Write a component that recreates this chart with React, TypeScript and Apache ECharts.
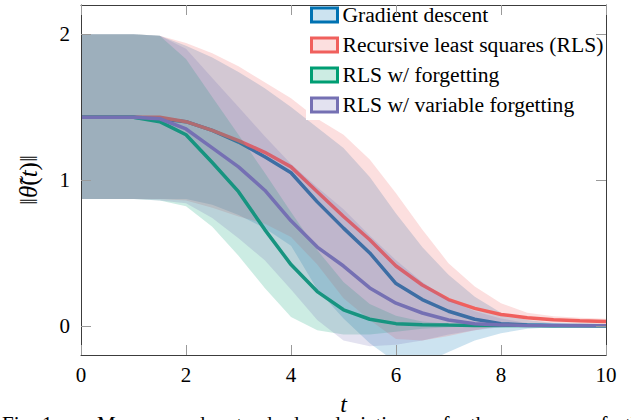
import React, { useEffect, useRef } from "react";
import * as echarts from "echarts";

// time grid
const tValues = [0, 0.5, 1, 1.5, 2, 2.5, 3, 3.5, 4, 4.5, 5, 5.5, 6, 6.5, 7, 7.5, 8, 8.5, 9, 9.5, 10];

// Gradient descent
const gdMean = [1.43, 1.43, 1.43, 1.42, 1.40, 1.34, 1.26, 1.16, 1.05, 0.85, 0.67, 0.50, 0.29, 0.18, 0.10, 0.045, 0.015, 0.006, 0.003, 0.002, 0.001];
const gdUpper = [2.0, 2.0, 2.0, 1.99, 1.92, 1.84, 1.74, 1.63, 1.50, 1.36, 1.22, 1.02, 0.77, 0.54, 0.35, 0.20, 0.09, 0.04, 0.02, 0.01, 0.005];
const gdLower = [0.87, 0.87, 0.87, 0.87, 0.87, 0.83, 0.76, 0.67, 0.55, 0.25, 0.05, -0.12, -0.25, -0.26, -0.18, -0.10, -0.05, -0.02, -0.01, 0.0, 0.0];

// Recursive least squares
const rlsMean = [1.43, 1.43, 1.43, 1.43, 1.40, 1.34, 1.27, 1.19, 1.09, 0.92, 0.75, 0.59, 0.41, 0.28, 0.18, 0.12, 0.078, 0.055, 0.042, 0.035, 0.03];
const rlsUpper = [2.0, 2.0, 2.0, 1.99, 1.94, 1.87, 1.78, 1.67, 1.56, 1.42, 1.31, 1.14, 0.91, 0.66, 0.43, 0.27, 0.155, 0.09, 0.065, 0.055, 0.048];
const rlsLower = [0.87, 0.87, 0.87, 0.87, 0.86, 0.81, 0.75, 0.70, 0.61, 0.42, 0.19, 0.04, -0.09, -0.10, -0.07, -0.03, 0.0, 0.02, 0.02, 0.015, 0.012];

// RLS with forgetting
const fgMean = [1.43, 1.43, 1.43, 1.40, 1.31, 1.12, 0.92, 0.66, 0.42, 0.235, 0.11, 0.045, 0.015, 0.008, 0.005, 0.003, 0.002, 0.002, 0.001, 0.001, 0.001];
const fgUpper = [2.0, 2.0, 2.0, 1.99, 1.83, 1.57, 1.31, 1.05, 0.78, 0.52, 0.30, 0.15, 0.07, 0.03, 0.015, 0.008, 0.005, 0.004, 0.003, 0.002, 0.002];
const fgLower = [0.87, 0.87, 0.87, 0.86, 0.82, 0.68, 0.48, 0.26, 0.06, -0.03, -0.06, -0.06, -0.04, -0.02, -0.01, -0.005, 0, 0, 0, 0, 0];

// RLS with variable forgetting
const vfMean = [1.43, 1.43, 1.43, 1.42, 1.35, 1.22, 1.09, 0.93, 0.72, 0.54, 0.41, 0.26, 0.155, 0.088, 0.04, 0.015, 0.006, 0.003, 0.002, 0.001, 0.001];
const vfUpper = [2.0, 2.0, 2.0, 1.99, 1.90, 1.70, 1.50, 1.30, 1.11, 0.95, 0.80, 0.62, 0.45, 0.30, 0.18, 0.10, 0.05, 0.02, 0.01, 0.005, 0.003];
const vfLower = [0.87, 0.87, 0.87, 0.86, 0.84, 0.74, 0.60, 0.45, 0.25, 0.04, -0.10, -0.14, -0.13, -0.10, -0.06, -0.03, -0.01, 0, 0, 0, 0];

const seriesNames = [
  "Gradient descent",
  "Recursive least squares (RLS)",
  "RLS w/ forgetting",
  "RLS w/ variable forgetting",
];
const seriesColors = ["#0072B2", "#F0605D", "#009E73", "#7570B3"];
const seriesFills = ["rgba(0,114,178,0.2)", "rgba(240,96,93,0.2)", "rgba(0,158,115,0.2)", "rgba(117,112,179,0.2)"];

const yTicks = [0, 1, 2];
const Y_MIN = -0.2;
const Y_MAX = 2.2;
const captionWords = ["Fig.", "1:", "Mean", "and", "standard", "deviation", "of", "the", "norm", "of", "the"];
const captionX = [2, 42, 97, 175, 228, 330, 432, 470, 522, 590, 625];

const SERIF = "Liberation Serif, DejaVu Serif, serif";

function pairs(vals: number[]) {
  return tValues.map((t, i) => [t, vals[i]]);
}

// clip a polyline (in data space) to v >= floor, inserting crossing points
function clipFloor(vals: number[], floor: number): number[][] {
  const out: number[][] = [];
  for (let i = 0; i < tValues.length; i++) {
    const v = vals[i];
    if (i > 0) {
      const pv = vals[i - 1];
      if ((pv - floor) * (v - floor) < 0) {
        const f = (floor - pv) / (v - pv);
        out.push([tValues[i - 1] + f * (tValues[i] - tValues[i - 1]), floor]);
      }
    }
    out.push([tValues[i], Math.max(v, floor)]);
  }
  return out;
}

function buildSeries() {
  const groups = [
    { mean: gdMean, lo: gdLower, hi: gdUpper },
    { mean: rlsMean, lo: rlsLower, hi: rlsUpper },
    { mean: fgMean, lo: fgLower, hi: fgUpper },
    { mean: vfMean, lo: vfLower, hi: vfUpper },
  ];
  const out: any[] = [];
  groups.forEach((g, k) => {
    const zBase = 1 + k * 2;
    out.push({
      type: "custom",
      name: "_band" + k,
      coordinateSystem: "cartesian2d",
      data: [[0, 0]],
      silent: true,
      z: zBase,
      renderItem: (params: any, api: any) => {
        const upper = tValues.map((t, i) => api.coord([t, Math.min(g.hi[i], Y_MAX)]));
        const lower = clipFloor(g.lo, Y_MIN).map((p) => api.coord(p)).reverse();
        return {
          type: "polygon",
          shape: { points: upper.concat(lower) },
          style: { fill: seriesFills[k], stroke: "none" },
        };
      },
    });
    out.push({
      type: "line",
      name: seriesNames[k],
      data: pairs(g.mean),
      symbol: "none",
      lineStyle: { color: seriesColors[k], width: 3.5 },
      itemStyle: { color: seriesColors[k] },
      z: zBase + 1,
    });
  });
  return out;
}

export default function App() {
  const ref = useRef<HTMLDivElement>(null);
  useEffect(() => {
    if (!ref.current) return;
    const chart = echarts.init(ref.current, undefined, { renderer: "svg" });
    const axisLineStyle = { color: "#3c3c3c", width: 1 };
    const tickStyle = { color: "#9a9a9a", width: 1 };
    const option: any = {
      animation: false,
      backgroundColor: "#fff",
      textStyle: { fontFamily: SERIF },
      grid: { left: 81, right: 25, top: 5, bottom: 65, containLabel: false, outerBoundsMode: "none" },
      legend: {
        orient: "vertical",
        left: 306,
        top: 0,
        padding: [4, 4, 4, 4],
        itemGap: 8,
        itemWidth: 26,
        itemHeight: 14,
        icon: "rect",
        backgroundColor: "#fff",
        z: 10,
        textStyle: { fontFamily: SERIF, fontSize: 21.6, color: "#000", lineHeight: 21 },
        data: seriesNames.map((n, k) => ({
          name: n,
          icon: "rect",
          itemStyle: { color: seriesFills[k], borderColor: seriesColors[k], borderWidth: 3 },
        })),
        selectedMode: false,
      },
      xAxis: [
        {
          type: "value",
          min: 0,
          max: 10,
          interval: 2,
          position: "bottom",
          z: 12,
          axisLine: { show: true, onZero: false, lineStyle: axisLineStyle },
          axisTick: { show: true, inside: true, length: 10, lineStyle: tickStyle },
          axisLabel: { color: "#000", fontFamily: SERIF, fontSize: 21, margin: 9 },
          splitLine: { show: false },
          name: "t",
          nameLocation: "middle",
          nameGap: 37,
          nameMoveOverlap: false,
          nameTextStyle: { fontFamily: SERIF, fontStyle: "italic", fontSize: 24, color: "#000" },
        },
        {
          type: "value",
          min: 0,
          max: 10,
          interval: 2,
          position: "top",
          z: 12,
          axisLine: { show: true, onZero: false, lineStyle: axisLineStyle },
          axisTick: { show: true, inside: true, length: 10, lineStyle: tickStyle },
          axisLabel: { show: false },
          splitLine: { show: false },
        },
      ],
      yAxis: [
        {
          type: "value",
          min: Y_MIN,
          max: Y_MAX,
          position: "left",
          z: 12,
          axisLine: { show: true, onZero: false, lineStyle: axisLineStyle },
          axisTick: { show: true, inside: true, length: 10, lineStyle: tickStyle, customValues: yTicks },
          axisLabel: { color: "#000", fontFamily: SERIF, fontSize: 21, margin: 11, customValues: yTicks },
          splitLine: { show: false },
          name: "{n|‖}{i|θ̃}{n|(}{i|t}{n|)‖}",
          nameLocation: "middle",
          nameGap: 40,
          nameRotate: 90,
          nameMoveOverlap: false,
          nameTextStyle: {
            color: "#000",
            fontFamily: SERIF,
            fontSize: 25,
            rich: {
              n: { fontFamily: SERIF, fontSize: 25, color: "#000" },
              i: { fontFamily: SERIF, fontSize: 25, fontStyle: "italic", color: "#000" },
            },
          },
        },
        {
          type: "value",
          min: Y_MIN,
          max: Y_MAX,
          position: "right",
          z: 12,
          axisLine: { show: true, onZero: false, lineStyle: axisLineStyle },
          axisTick: { show: true, inside: true, length: 10, lineStyle: tickStyle, customValues: yTicks },
          axisLabel: { show: false },
          splitLine: { show: false },
        },
      ],
      graphic: captionWords.map((w, i) => ({
        type: "text",
        x: captionX[i],
        y: 413,
        z: 20,
        style: { text: w, fontFamily: SERIF, fontSize: 21, fill: "#000", verticalAlign: "top" },
      })),
      series: buildSeries(),
    };
    chart.setOption(option);
    return () => chart.dispose();
  }, []);
  return (
    <div
      ref={ref}
      style={{ position: "absolute", left: 0, top: 0, width: 631, height: 420, background: "#fff" }}
    />
  );
}
